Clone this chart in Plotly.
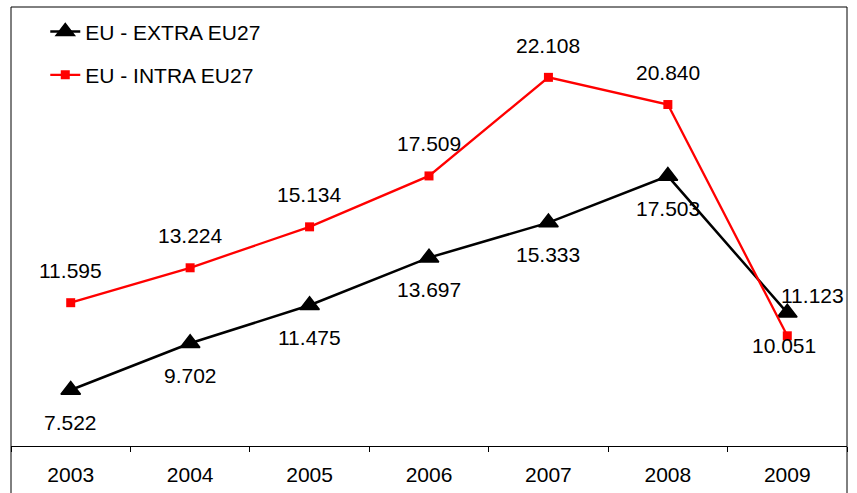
import plotly.graph_objects as go

years = ["2003", "2004", "2005", "2006", "2007", "2008", "2009"]
extra_eu27 = [7.522, 9.702, 11.475, 13.697, 15.333, 17.503, 11.123]
intra_eu27 = [11.595, 13.224, 15.134, 17.509, 22.108, 20.840, 10.051]

FONT = "Liberation Sans, Arial, sans-serif"

fig = go.Figure()
fig.add_trace(go.Scatter(
    x=years, y=extra_eu27, mode="lines+markers", name="EU - EXTRA EU27",
    legendgroup="a",
    line=dict(color="black", width=2.5),
    marker=dict(symbol="triangle-up", size=17, color="black",
                line=dict(color="black", width=1.5)),
))
fig.add_trace(go.Scatter(
    x=years, y=intra_eu27, mode="lines+markers", name="EU - INTRA EU27",
    legendgroup="b",
    line=dict(color="#ff0000", width=2.3),
    marker=dict(symbol="square", size=9, color="#ff0000"),
))

annotations = []
for i, v in enumerate(extra_eu27):
    xs, ys = 0, -32
    if i == len(years) - 1:
        xs, ys = 25, 17
    annotations.append(dict(x=i, y=v, xref="x", yref="y", text=f"{v:.3f}",
                            showarrow=False, xshift=xs, yshift=ys,
                            font=dict(family=FONT, size=21, color="black")))
for i, v in enumerate(intra_eu27):
    xs, ys = 0, 32
    if i == len(years) - 1:
        xs, ys = -3, -10
    annotations.append(dict(x=i, y=v, xref="x", yref="y", text=f"{v:.3f}",
                            showarrow=False, xshift=xs, yshift=ys,
                            font=dict(family=FONT, size=21, color="black")))

fig.update_layout(
    width=857, height=493,
    margin=dict(l=11, r=10, t=7, b=47),
    paper_bgcolor="white", plot_bgcolor="white",
    font=dict(family=FONT, size=21, color="black"),
    annotations=annotations,
    showlegend=True,
    legend=dict(x=0.041, y=0.99, xanchor="left", yanchor="top",
                bgcolor="rgba(0,0,0,0)", tracegroupgap=13,
                font=dict(family=FONT, size=21, color="black")),
    xaxis=dict(type="category", range=[-0.5, 6.5], showgrid=False,
               showline=True, linecolor="black", linewidth=1,
               ticks="outside", tickson="boundaries", ticklen=5,
               tickcolor="black", tickfont=dict(family=FONT, size=21),
               ticklabelstandoff=10, fixedrange=True),
    yaxis=dict(range=[4.91, 25.39], showgrid=False, zeroline=False,
               showticklabels=False, showline=False, ticks=""),
    shapes=[dict(type="rect", xref="paper", yref="paper",
                 x0=0, x1=1, y0=-0.5, y1=1,
                 line=dict(color="black", width=1), layer="above")],
)

fig.write_html("out.html", config={"displayModeBar": False},
               post_script="document.body.style.margin='0';document.body.style.overflow='hidden';")
